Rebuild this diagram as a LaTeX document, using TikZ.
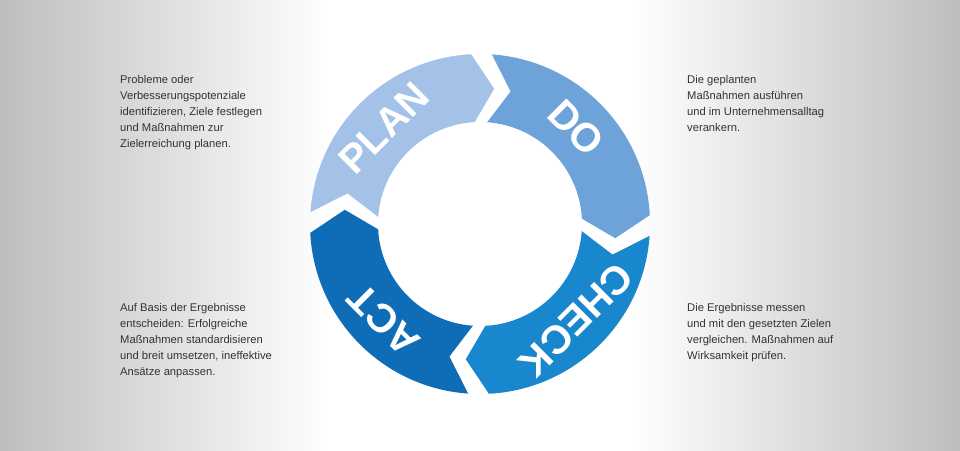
\documentclass[tikz,border=0pt]{standalone}
\usepackage{fontspec}
\setmainfont{Liberation Sans}
\usepackage{xcolor}
\usetikzlibrary{positioning}

\definecolor{planblue}{HTML}{A4C2E8}
\definecolor{doblue}{HTML}{6EA3DA}
\definecolor{checkblue}{HTML}{1887CD}
\definecolor{actblue}{HTML}{0F6CB6}
\definecolor{bgray}{HTML}{BEBEBE}
\definecolor{txtgray}{HTML}{333333}

% ring segment: start angle, end angle, colour
\newcommand{\pdcaseg}[3]{%
  \fill[#3] (#1:170) arc[start angle=#1, end angle=#2, radius=170]
    -- ({#2-9}:136) -- (#2:102)
    arc[start angle=#2, end angle=#1, radius=102]
    -- ({#1-9}:136) -- cycle;}

\begin{document}
\begin{tikzpicture}[x=1pt,y=1pt,
    desc/.style={anchor=north west, align=left, text=txtgray,
      font=\fontsize{11.2}{16}\selectfont, inner sep=0pt},
    phase/.style={text=white, font=\fontsize{40}{40}\selectfont\bfseries}
]
    \useasboundingbox (0,0) rectangle (960,450);
    \fill[white] (0,0) rectangle (960,450);
    \shade[left color=bgray, right color=white] (0,0) rectangle (330,450);
    \shade[left color=white, right color=bgray] (630,0) rectangle (960,450);
    \begin{scope}[shift={(480,226)}]
        \pdcaseg{176}{93}{planblue}
        \pdcaseg{86}{3}{doblue}
        \pdcaseg{-4}{-87}{checkblue}
        \pdcaseg{-94}{-177}{actblue}
        \node[phase, rotate=45] (plan) at (135:136) {PLAN};
        \node[phase, rotate=-45] (do) at (45:136) {DO};
        \node[phase, rotate=-135] (check) at (-45:136) {CHECK};
        \node[phase, rotate=135] (act) at (-135:136) {ACT};
    \end{scope}
    \node[desc] (plantext) at (120,375) {Probleme oder\\Verbesserungspotenziale\\identifizieren, Ziele festlegen\\und Maßnahmen zur\\Zielerreichung planen.};
    \node[desc] (dotext) at (687,375) {Die geplanten\\Maßnahmen ausführen\\und im Unternehmensalltag\\verankern.};
    \node[desc] (acttext) at (120,147) {Auf Basis der Ergebnisse\\entscheiden: Erfolgreiche\\Maßnahmen standardisieren\\und breit umsetzen, ineffektive\\Ansätze anpassen.};
    \node[desc] (checktext) at (687,147) {Die Ergebnisse messen\\und mit den gesetzten Zielen\\vergleichen. Maßnahmen auf\\Wirksamkeit prüfen.};
\end{tikzpicture}
\end{document}
